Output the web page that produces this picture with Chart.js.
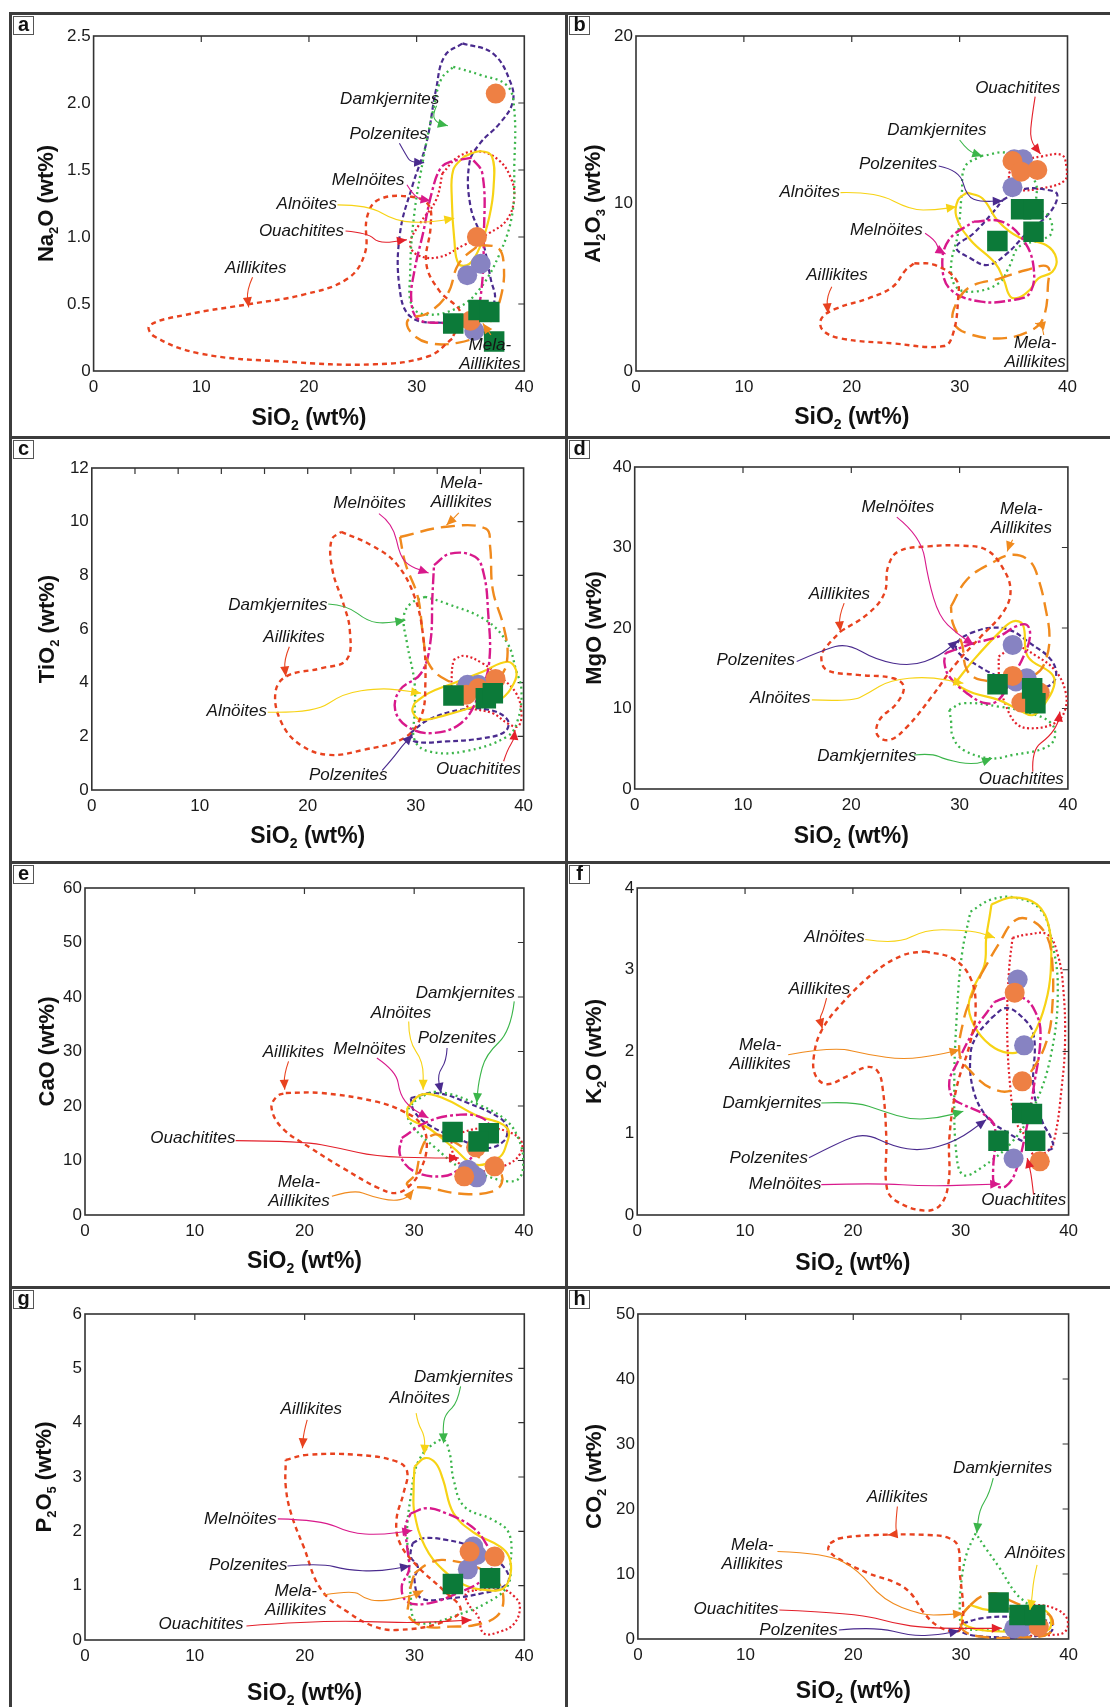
<!DOCTYPE html>
<html>
<head>
<meta charset="utf-8">
<script src="https://cdn.jsdelivr.net/npm/chart.js@4.4.1/dist/chart.umd.min.js"></script>
<style>
  body { margin: 0; background: #fff; }
  #fig { position: relative; width: 1110px; height: 1707px; overflow: hidden; }
  #fig canvas { position: absolute; }
  .ln { position: absolute; background: #3c3c3c; }
</style>
</head>
<body>
<div id="fig"></div>
<script>
// ---- a: Na2O ----
const naAill = [[33.3,0.24],[31.1,0.11],[26.1,0.05],[17.8,0.07],[9.9,0.13],[5.6,0.26],[5.2,0.34],[8.6,0.42],[14.5,0.5],[19.5,0.57],[23.6,0.69],[25.2,0.88],[25.4,1.15],[26.5,1.28],[29.5,1.3],[31.1,1.24],[31.3,1.08],[30.9,0.8],[32.1,0.6],[34.1,0.43]];
const naMela = [[35.75,0.94],[37.6,0.915],[38.1,0.78],[37.9,0.58],[37.1,0.405],[35.75,0.27],[33.8,0.21],[31.1,0.21],[29.45,0.29],[29.2,0.38],[31.1,0.435],[32.9,0.58],[33.9,0.8]];
const naMeln = [[35.1,1.59],[33.1,1.56],[32.2,1.51],[31.4,1.33],[30.6,1.03],[29.8,0.75],[29.5,0.53],[30.1,0.39],[32.1,0.36],[35.1,0.375],[35.9,0.53],[36.25,1.03],[36.1,1.475]];
const naAlno = [[34.4,1.6],[35.9,1.64],[37.0,1.6],[37.15,1.375],[36.75,1.15],[35.9,0.93],[34.9,0.8],[33.9,0.8],[33.5,0.98],[33.27,1.28],[33.4,1.5]];
const naDamk = [[33.4,2.27],[35.9,2.21],[38.4,2.13],[39.07,1.95],[39.07,1.525],[38.9,1.18],[37.74,0.88],[35.75,0.6],[33.76,0.47],[31.1,0.42],[29.6,0.48],[29.4,0.73],[29.75,1.15],[30.6,1.575],[31.6,1.97],[32.3,2.18]];
const naPolz = [[34.26,2.445],[37.08,2.37],[38.74,2.15],[38.9,2.0],[37.74,1.85],[35.9,1.7],[34.9,1.55],[35.0,1.23],[36.1,0.98],[36.9,0.68],[37.25,0.53],[36.1,0.38],[32.4,0.36],[29.45,0.405],[28.4,0.63],[28.46,1.03],[29.6,1.38],[30.9,1.7],[31.8,2.1],[32.6,2.35]];
const naOuac = [[32.4,1.475],[33.9,1.6],[35.75,1.64],[37.6,1.575],[38.7,1.45],[39.07,1.3],[38.4,1.13],[36.75,1.03],[34.4,0.94],[32.1,0.85],[30.1,0.865],[29.4,0.95],[30.3,1.1],[31.8,1.275]];
const naOrange = [[37.35,2.07],[35.6,1.0],[35.0,0.375]];
const naPurple = [[35.95,0.8],[34.7,0.715],[35.35,0.3]];
const naGreen = [[33.4,0.355],[35.75,0.455],[36.75,0.44],[37.2,0.22]];
const naNotes = [
  ['Damkjernites',[27.5,2.03],[[31.85,1.98],[31.45,1.91],[31.9,1.85],[32.9,1.83]]],
  ['Polzenites',[27.4,1.77],[[28.4,1.7],[29.1,1.6],[29.45,1.56],[30.7,1.555]]],
  ['Melnöites',[25.5,1.425],[[29.1,1.39],[29.8,1.29],[31.3,1.27]]],
  ['Alnöites',[19.8,1.245],[[22.65,1.24],[25.5,1.24],[28.1,1.115],[31.1,1.107],[33.5,1.14]]],
  ['Ouachitites',[19.3,1.045],[[23.4,1.045],[25.5,1.03],[26.5,0.95],[29.1,0.98]]],
  ['Aillikites',[15.06,0.77],[[14.76,0.7],[14.2,0.6],[14.4,0.475]]],
  ['Mela-Aillikites',[36.8,0.195],[[36.9,0.27],[36.15,0.355]]]
];

// ---- b: Al2O3 ----
const alAill = [[25.8,6.43],[27.7,6.33],[29.7,5.43],[29.85,4.24],[29.4,2.25],[28.55,1.49],[23.8,1.65],[18.96,1.95],[17.3,2.45],[17.2,3.14],[18.6,3.74],[21.56,4.34],[23.8,5.03],[25.0,6.03]];
const alMela = [[33.6,5.5],[36.2,6.03],[38.15,6.23],[38.2,5.23],[37.8,3.24],[36.7,2.45],[33.9,1.95],[30.7,2.25],[29.4,2.95],[29.7,4.04],[31.0,5.03]];
const alMeln = [[31.3,8.92],[33.9,8.92],[35.9,7.82],[36.85,6.23],[36.5,4.64],[34.9,4.24],[32.0,4.14],[29.2,4.84],[28.4,6.23],[29.0,7.82]];
const alAlno = [[30.67,10.65],[32.1,10.31],[33.6,8.92],[35.5,7.98],[38.0,7.52],[38.96,6.73],[38.6,5.93],[37.3,5.53],[36.5,4.84],[35.5,4.38],[34.7,4.44],[34.1,5.43],[33.3,6.43],[31.0,7.82],[29.7,9.21],[29.85,10.21]];
const alDamk = [[32.0,12.84],[34.6,12.96],[37.0,11.3],[37.2,9.81],[38.3,9.21],[38.5,8.22],[37.5,7.82],[35.5,7.42],[34.6,6.23],[33.6,5.23],[31.3,4.74],[29.7,5.0],[29.2,6.23],[29.85,8.22],[30.2,10.6],[30.5,12.2]];
const alPolz = [[34.0,10.21],[35.9,10.85],[38.15,10.81],[39.06,10.51],[38.3,9.41],[36.2,8.22],[34.4,7.02],[32.6,6.33],[31.0,6.73],[29.7,7.38],[31.3,8.22],[33.0,9.41]];
const alOuac = [[35.9,12.6],[37.5,12.8],[39.45,12.9],[39.9,12.2],[39.8,11.4],[37.5,10.9],[35.2,10.9],[34.6,11.8]];
const alOrange = [[34.9,12.54],[35.7,11.9],[37.2,12.0]];
const alPurple = [[35.06,12.64],[35.87,12.64],[34.9,10.97]];
const alGreen = [[35.7,9.65],[36.85,9.65],[36.85,8.32],[33.5,7.76]];
const alNotes = [
  ['Ouachitites',[35.38,16.88],[[37.0,16.38],[36.7,15.18],[36.5,13.79],[37.5,12.96]]],
  ['Damkjernites',[27.9,14.39],[[30.0,13.79],[30.8,13.1],[32.1,12.84]]],
  ['Polzenites',[24.3,12.34],[[28.06,12.24],[30.0,12.0],[30.67,10.41],[31.95,10.11],[34.0,10.15]]],
  ['Alnöites',[16.1,10.7],[[18.96,10.65],[22.2,10.7],[25.5,9.61],[27.74,9.61],[29.7,9.81]]],
  ['Melnöites',[23.2,8.38],[[26.8,8.22],[27.74,7.82],[28.06,7.22],[28.7,6.99]]],
  ['Aillikites',[18.63,5.73],[[18.15,5.03],[17.66,4.44],[17.8,3.44]]],
  ['Mela-Aillikites',[37.0,1.65],[[37.8,2.15],[37.66,2.75],[37.0,2.85]]]
];

// ---- c: TiO2 ----
const tiAill = [[23.1,9.62],[25.9,9.12],[28.2,8.44],[29.9,7.2],[30.7,5.71],[30.9,3.98],[30.5,2.74],[28.9,1.93],[25.2,1.5],[21.9,1.31],[19.3,1.69],[17.6,2.49],[17.0,3.61],[18.0,4.23],[21.3,4.54],[23.6,4.85],[23.9,5.96],[23.3,6.95],[22.3,8.19],[22.2,9.31]];
const tiMela = [[28.55,9.43],[32.85,9.81],[36.5,9.74],[36.9,9.06],[37.15,7.45],[38.15,6.09],[38.5,4.97],[37.8,4.23],[35.5,3.86],[32.85,4.1],[31.2,4.72],[30.7,5.71],[30.2,7.2],[29.05,8.44]];
const tiMeln = [[31.7,8.38],[33.2,8.81],[35.5,8.69],[36.3,8.07],[36.7,6.71],[36.8,4.72],[35.8,3.48],[34.2,2.49],[31.5,2.12],[29.2,2.37],[28.1,2.99],[28.55,3.73],[30.5,4.35],[31.35,5.47],[31.55,7.2]];
const tiAlno = [[29.9,3.24],[31.2,3.61],[33.5,3.98],[36.2,4.41],[38.5,4.78],[39.3,4.47],[39.1,3.98],[37.8,3.36],[35.5,3.11],[32.85,2.8],[30.5,2.62],[29.7,2.93]];
const tiDamk = [[30.87,7.2],[32.85,6.95],[36.5,6.33],[38.5,5.47],[39.3,4.47],[39.8,3.73],[39.47,2.62],[38.5,2.0],[34.5,1.44],[31.2,1.44],[29.9,1.87],[29.9,2.86],[29.9,3.98],[29.2,5.47],[28.9,6.46],[29.55,6.95]];
const tiPolz = [[29.5,2.12],[31.2,2.62],[34.2,2.99],[36.8,2.99],[38.5,2.62],[38.3,2.18],[36.2,1.93],[32.85,1.81],[29.9,1.81]];
const tiOuac = [[33.5,4.85],[34.5,5.0],[36.2,4.72],[37.8,4.23],[39.3,3.61],[39.8,2.86],[39.47,2.37],[38.5,2.49],[37.15,2.86],[34.8,3.11],[33.5,3.61],[33.35,4.35]];
const tiOrange = [[34.7,3.55],[35.8,3.79],[37.4,4.14]];
const tiPurple = [[34.8,3.92],[35.8,3.92]];
const tiGreen = [[33.5,3.52],[36.5,3.42],[37.15,3.61]];
const tiNotes = [
  ['Mela-Aillikites',[34.24,11.42],[[34.0,10.33],[33.5,10.12],[32.85,9.87]]],
  ['Melnöites',[25.74,10.67],[[26.6,10.3],[27.9,9.93],[28.55,8.69],[29.55,8.32],[31.2,8.09]]],
  ['Damkjernites',[17.24,6.89],[[21.9,6.93],[23.6,6.89],[25.6,6.27],[27.2,6.21],[29.05,6.33]]],
  ['Aillikites',[18.73,5.71],[[18.3,5.34],[17.8,4.85],[17.97,4.23]]],
  ['Alnöites',[13.43,2.95],[[16.3,2.9],[20.6,2.86],[23.3,3.61],[26.6,3.79],[28.55,3.73],[30.5,3.61]]],
  ['Polzenites',[23.75,0.55],[[26.9,0.73],[27.9,1.19],[28.7,1.62],[29.7,2.06]]],
  ['Ouachitites',[35.83,0.76],[[38.15,1.07],[38.5,1.5],[39.1,1.87],[39.2,2.24]]]
];

// ---- d: MgO ----
const mgAill = [[19.0,19.56],[21.6,21.84],[23.06,24.33],[23.4,27.65],[24.36,29.51],[27.1,30.14],[30.35,30.22],[32.45,29.72],[33.9,27.65],[34.7,24.75],[34.07,22.05],[31.97,18.94],[29.7,15.63],[27.43,11.48],[25.17,7.75],[23.55,6.09],[22.4,6.72],[22.6,8.58],[24.2,10.65],[24.84,12.73],[23.87,13.76],[20.63,14.18],[17.72,14.8],[17.23,16.46],[17.72,17.7]];
const mgMela = [[29.2,22.67],[30.67,25.99],[32.94,28.06],[34.9,29.1],[36.5,28.27],[37.3,25.99],[37.96,22.26],[38.3,18.94],[37.96,16.04],[37.15,14.38],[35.2,13.55],[31.97,13.55],[30.67,14.8],[30.2,18.11],[29.37,20.6]];
const mgMeln = [[28.7,16.87],[31.3,18.11],[33.6,18.94],[35.2,20.19],[36.2,20.39],[36.5,18.94],[35.9,16.46],[34.9,13.97],[33.6,11.07],[32.4,10.65],[30.67,11.9],[29.05,13.97],[28.6,15.63]];
const mgAlno = [[29.7,13.35],[31.3,16.04],[33.6,19.36],[34.9,20.81],[35.85,20.39],[36.3,16.46],[38.45,14.38],[38.77,13.14],[38.1,11.07],[36.8,9.2],[35.5,9.82],[33.6,11.07],[31.3,11.9],[30.0,12.73]];
const mgDamk = [[29.05,9.82],[30.35,10.65],[33.6,10.24],[36.5,9.41],[38.45,8.17],[38.77,6.3],[37.8,5.06],[34.9,4.23],[32.9,3.81],[30.35,4.85],[29.37,6.51],[29.2,8.58]];
const mgPolz = [[31.0,19.36],[32.6,19.98],[34.6,19.77],[36.5,18.11],[38.45,16.04],[38.9,13.97],[38.1,12.73],[36.2,12.73],[33.6,13.97],[31.3,15.63],[29.7,17.29],[30.0,18.53]];
const mgOuac = [[33.6,16.46],[35.2,17.7],[37.15,16.46],[38.77,14.8],[39.74,12.31],[39.74,9.82],[38.77,8.17],[36.5,7.54],[35.2,8.17],[34.2,10.65],[33.7,13.14]];
const mgOrange = [[34.9,14.05],[37.4,11.98],[35.7,10.74]];
const mgPurple = [[34.9,17.9],[35.2,13.35],[36.2,13.76]];
const mgGreen = [[33.5,13.0],[36.7,12.5],[37.0,10.65]];
const mgNotes = [
  ['Melnöites',[24.3,35.03],[[24.2,33.78],[26.46,31.38],[27.1,25.99],[28.1,21.43],[29.7,19.36],[31.3,17.91]]],
  ['Mela-Aillikites',[35.7,34.69],[[34.9,30.96],[34.56,30.14],[34.4,29.51]]],
  ['Aillikites',[18.9,24.25],[[19.34,23.09],[18.85,21.43],[19.0,19.56]]],
  ['Polzenites',[11.17,15.96],[[14.96,15.83],[17.4,17.29],[19.64,18.11],[22.25,16.04],[25.5,15.21],[28.08,16.46],[29.86,18.45]]],
  ['Alnöites',[13.44,11.27],[[16.36,11.07],[19.98,10.86],[21.6,11.9],[23.55,13.55],[27.1,13.97],[30.35,13.14]]],
  ['Damkjernites',[21.44,4.02],[[25.8,4.23],[27.43,4.44],[28.73,3.61],[31.3,2.98],[33.0,3.81]]],
  ['Ouachitites',[35.7,1.2],[[36.76,2.16],[36.66,4.85],[38.3,6.51],[39.1,8.17],[39.26,9.62]]]
];

// ---- e: CaO ----
const caAill = [[18.3,22.39],[21.5,22.39],[26.4,20.86],[29.0,19.02],[30.66,16.57],[31.15,12.9],[30.66,8.62],[29.7,5.57],[28.4,4.04],[26.75,4.95],[23.5,8.62],[20.57,12.29],[17.97,15.96],[17.0,19.63],[17.5,21.77]];
const caMela = [[30.17,7.4],[30.82,12.9],[31.8,14.74],[32.94,14.13],[34.56,12.29],[36.5,9.85],[37.82,8.01],[37.98,5.87],[37.17,4.34],[34.56,3.85],[31.3,4.95],[29.36,5.57]];
const caMeln = [[28.87,14.13],[31.3,17.19],[34.24,18.41],[36.2,17.8],[36.84,15.96],[35.87,12.29],[34.24,8.62],[32.6,7.1],[30.0,8.01],[28.7,11.07]];
const caAlno = [[29.36,19.63],[30.66,22.08],[32.6,21.47],[35.54,18.41],[38.47,15.96],[38.3,12.29],[37.66,10.46],[35.54,9.24],[33.6,12.29],[31.3,15.96],[29.5,17.8]];
const caDamk = [[30.0,20.86],[31.96,22.57],[35.87,20.24],[38.47,17.19],[39.6,13.52],[39.94,9.85],[39.6,6.79],[38.47,6.18],[36.2,7.4],[34.24,8.62],[31.96,12.29],[30.0,15.96],[29.36,18.72]];
const caPolz = [[29.68,21.47],[31.96,22.39],[34.9,20.55],[37.8,17.8],[38.47,15.96],[38.15,13.52],[36.5,12.29],[33.9,14.13],[31.3,16.57],[30.0,19.02]];
const caOuac = [[33.6,14.74],[36.2,15.96],[38.47,15.35],[39.77,13.52],[39.6,11.07],[38.47,9.24],[36.2,8.01],[34.24,9.24],[33.4,12.29]];
const caOrange = [[35.64,12.42],[37.33,8.93],[34.56,7.1]];
const caPurple = [[34.9,8.32],[35.2,7.7],[35.7,6.91]];
const caGreen = [[33.5,15.23],[36.8,15.0],[35.87,13.5]];
const caNotes = [
  ['Damkjernites',[34.66,40.73],[[39.12,39.2],[38.8,33.7],[36.52,29.42],[35.87,24.53],[35.7,20.55]]],
  ['Alnöites',[28.8,37.06],[[29.5,35.5],[29.5,31.87],[30.82,28.2],[30.82,23.0]]],
  ['Polzenites',[33.9,32.35],[[33.0,30.64],[32.94,28.2],[32.1,25.75],[32.45,22.39]]],
  ['Melnöites',[25.94,30.34],[[26.6,28.8],[28.38,26.36],[28.7,22.08],[29.68,19.63],[31.3,17.8]]],
  ['Aillikites',[19.0,29.85],[[18.55,28.2],[18.13,25.75],[18.2,23.0]]],
  ['Ouachitites',[9.83,14.0],[[13.73,13.64],[19.92,13.52],[23.17,12.29],[26.43,10.76],[31.3,10.46],[34.08,10.46]]],
  ['Mela-Aillikites',[19.5,5.99],[[22.5,3.43],[24.5,4.65],[26.1,3.43],[28.06,2.51],[29.36,3.12],[29.94,4.65]]]
];

// ---- f: K2O ----
const kAill = [[26.67,3.225],[29.27,3.136],[30.9,2.9],[31.38,2.53],[30.9,2.12],[29.6,1.55],[28.94,0.94],[28.88,0.41],[28.13,0.126],[26.67,0.053],[24.07,0.167],[23.15,0.33],[23.1,0.94],[22.76,1.55],[22.28,1.76],[21.3,1.81],[19.5,1.7],[17.56,1.6],[16.5,1.717],[16.4,1.96],[17.07,2.25],[18.86,2.57],[22.1,2.98],[24.7,3.18]];
const kMela = [[31.87,2.94],[33.5,3.31],[35.1,3.61],[36.75,3.59],[38.05,3.39],[38.5,3.06],[38.5,2.57],[38.05,2.165],[36.75,1.8],[34.8,1.53],[32.85,1.55],[30.9,1.76],[29.9,1.96],[30.24,2.37],[31.05,2.69]];
const kMeln = [[33.17,2.61],[34.15,2.655],[35.77,2.655],[36.9,2.49],[37.4,2.206],[36.75,1.55],[36.1,1.064],[35.1,0.534],[34.15,0.35],[33.17,0.371],[33.0,0.534],[33.17,1.064],[32.2,1.227],[30.24,1.35],[29.27,1.43],[28.94,1.635],[29.6,1.84],[31.2,2.247]];
const kAlno = [[32.85,3.8],[34.8,3.886],[37.07,3.8],[38.2,3.51],[38.37,3.06],[38.05,2.695],[37.07,2.29],[35.77,2.04],[34.8,1.98],[33.17,2.04],[31.54,2.25],[30.73,2.53],[31.2,2.78],[32.2,3.06],[32.36,3.39],[32.7,3.67]];
const kDamk = [[30.9,3.71],[32.85,3.86],[35.1,3.88],[37.4,3.735],[38.37,3.39],[39.0,2.78],[38.37,1.96],[36.75,1.31],[34.8,0.9],[31.87,0.575],[30.24,0.49],[29.6,0.74],[29.4,1.55],[29.6,2.37],[30.1,3.18]];
const kPolz = [[32.85,2.41],[34.15,2.53],[35.45,2.45],[36.75,2.206],[36.75,1.55],[37.56,1.146],[38.37,0.942],[38.54,0.82],[37.9,0.8],[36.42,0.86],[34.15,1.023],[32.5,1.187],[31.2,1.513],[30.9,1.96],[31.54,2.206]];
const kOuac = [[34.8,3.39],[36.1,3.43],[38.05,3.43],[39.0,3.18],[39.5,2.78],[39.67,2.12],[39.35,1.55],[38.7,0.94],[38.05,0.78],[36.75,0.74],[36.1,0.94],[35.1,1.146],[34.6,1.55],[34.3,2.29],[34.47,2.98]];
const kOrange = [[35.0,2.72],[35.7,1.635],[37.33,0.656]];
const kPurple = [[35.28,2.88],[35.87,2.075],[34.9,0.69]];
const kGreen = [[33.5,0.909],[35.7,1.248],[36.6,1.235],[36.9,0.909]];
const kNotes = [
  ['Alnöites',[18.3,3.4],[[21.14,3.37],[24.07,3.31],[26.67,3.49],[29.9,3.49],[31.87,3.45],[33.17,3.39]]],
  ['Aillikites',[16.9,2.756],[[17.56,2.654],[17.24,2.49],[16.9,2.41],[17.17,2.28]]],
  ['Mela-Aillikites',[11.4,2.075],[[14.0,1.96],[18.2,2.06],[21.46,1.96],[24.7,1.9],[27.97,1.96],[29.9,2.02]]],
  ['Damkjernites',[12.5,1.37],[[17.07,1.37],[20.16,1.39],[22.76,1.27],[25.37,1.166],[27.97,1.187],[30.24,1.268]]],
  ['Polzenites',[12.2,0.7],[[15.93,0.7],[18.86,0.9],[21.14,1.003],[23.74,0.84],[26.34,0.78],[29.6,0.9],[32.36,1.166]]],
  ['Melnöites',[13.72,0.371],[[17.07,0.371],[22.1,0.39],[27.0,0.35],[33.66,0.38]]],
  ['Ouachitites',[35.84,0.175],[[36.75,0.25],[36.58,0.45],[36.4,0.575],[36.16,0.697]]]
];

// ---- g: P2O5 ----
const pAill = [[18.28,3.316],[20.23,3.408],[24.78,3.408],[28.36,3.286],[29.33,3.1],[29.0,2.7],[28.36,2.21],[28.68,1.78],[30.3,1.35],[32.6,0.92],[34.2,0.553],[32.26,0.307],[28.36,0.184],[26.4,0.246],[24.1,0.49],[21.53,0.92],[19.9,1.72],[18.76,2.33],[18.28,2.825]];
const pMela = [[30.0,1.228],[31.3,1.41],[32.6,1.474],[35.5,1.35],[37.46,1.105],[38.1,0.737],[37.46,0.43],[35.5,0.276],[33.23,0.246],[31.0,0.246],[29.5,0.43],[29.5,0.737],[29.66,0.983]];
const pMeln = [[29.66,2.33],[31.12,2.426],[32.9,2.33],[35.2,2.088],[36.5,1.78],[37.14,1.41],[36.2,1.105],[33.9,0.86],[31.3,0.675],[29.33,0.706],[28.84,0.983],[29.5,1.29],[29.33,1.72],[29.17,2.088]];
const pAlno = [[30.0,3.19],[30.96,3.347],[31.93,3.255],[32.6,2.95],[33.56,2.33],[35.5,1.965],[37.8,1.72],[38.6,1.535],[38.76,1.23],[38.1,0.95],[36.5,0.92],[34.54,1.013],[32.6,1.29],[30.96,1.72],[30.0,2.33],[29.92,2.76]];
const pDamk = [[30.96,3.5],[32.59,3.685],[33.2,3.44],[33.56,2.95],[34.54,2.456],[37.14,2.21],[38.6,1.965],[38.76,1.41],[38.44,0.983],[36.5,0.675],[33.9,0.46],[31.3,0.307],[30.0,0.368],[29.66,0.8],[29.5,1.41],[29.33,2.03],[29.66,2.64],[30.15,3.19]];
const pPolz = [[29.82,1.78],[30.8,1.873],[32.9,1.842],[35.2,1.72],[37.46,1.474],[38.6,1.167],[38.1,0.983],[36.16,0.86],[33.23,0.768],[30.63,0.768],[30.0,1.105],[30.3,1.35],[29.66,1.535]];
const pOuac = [[35.5,0.92],[37.8,0.95],[39.1,0.8],[39.6,0.614],[39.1,0.307],[37.8,0.154],[36.3,0.123],[35.8,0.43],[34.86,0.675],[34.7,0.86]];
const pOrange = [[35.02,1.627],[37.3,1.535]];
const pPurple = [[35.67,1.566],[34.86,1.3],[35.35,1.72]];
const pGreen = [[33.5,1.03],[36.88,1.136]];
const pNotes = [
  ['Damkjernites',[34.47,4.83],[[34.2,4.667],[33.9,4.36],[32.9,4.176],[32.6,3.99],[32.65,3.62]]],
  ['Alnöites',[30.47,4.44],[[30.15,4.176],[30.3,3.99],[30.96,3.746],[30.9,3.41]]],
  ['Aillikites',[20.6,4.24],[[20.23,4.05],[19.9,3.81],[19.8,3.53]]],
  ['Melnöites',[14.15,2.23],[[17.56,2.23],[21.53,2.21],[24.13,1.965],[26.86,1.935],[29.8,2.014]]],
  ['Polzenites',[14.86,1.38],[[18.44,1.363],[21.53,1.41],[23.8,1.29],[26.73,1.26],[29.6,1.363]]],
  ['Mela-Aillikites',[19.19,0.9],[[21.7,0.829],[24.46,0.92],[25.4,0.768],[26.73,0.706],[29.66,0.8],[30.8,0.909]]],
  ['Ouachitites',[10.57,0.29],[[14.7,0.258],[21.53,0.368],[29.66,0.307],[35.2,0.368]]]
];

// ---- h: CO2 ----
const coAill = [[17.85,14.73],[18.8,15.5],[22.1,16.0],[26.97,16.0],[28.92,15.5],[29.74,14.2],[29.9,10.1],[30.2,5.0],[30.06,1.9],[29.58,1.13],[27.95,1.9],[26.6,3.95],[25.34,7.03],[24.04,8.57],[21.43,10.1],[18.83,12.17],[17.69,13.7]];
const coMela = [[30.88,5.24],[31.86,6.52],[33.16,7.03],[34.8,5.75],[36.74,4.47],[38.37,3.44],[38.2,0.87],[35.1,0.26],[31.86,0.36],[30.2,1.39],[30.06,3.44]];
const coMeln = [];
const coAlno = [[30.88,5.24],[32.5,4.47],[34.8,4.72],[37.7,4.47],[38.37,2.93],[38.05,1.39],[35.1,1.13],[31.86,1.39],[30.2,2.41],[30.2,3.95]];
const coDamk = [[31.37,16.27],[30.55,13.19],[30.06,9.09],[29.9,3.95],[30.2,1.9],[31.86,1.39],[35.1,1.64],[36.74,3.44],[36.4,4.98],[35.1,7.03],[33.5,11.14],[32.2,14.2]];
const coPolz = [[30.2,2.41],[31.86,3.18],[34.46,3.44],[37.07,3.18],[38.37,2.41],[38.37,1.13],[36.4,0.36],[33.5,0.26],[30.9,0.62],[29.9,1.39]];
const coOuac = [[35.1,4.72],[37.07,5.24],[39.0,4.47],[39.9,2.93],[39.67,1.13],[38.37,0.62],[36.1,0.62],[34.8,1.9],[34.6,3.7]];
const coOrange = [[37.23,1.9]];
const coPurple = [[34.95,1.64],[35.77,1.9]];
const coGreen = [[33.5,5.6],[35.44,3.7],[36.9,3.7]];
const coNotes = [
  ['Damkjernites',[33.88,26.28],[[33.0,24.74],[32.67,22.43],[31.7,19.87],[31.47,16.27]]],
  ['Aillikites',[24.1,21.82],[[24.1,20.38],[23.9,17.3],[24.1,16.17],[23.2,16.0]]],
  ['Alnöites',[36.9,13.19],[[37.07,11.4],[36.74,9.09],[36.58,6.0],[36.4,4.47]]],
  ['Mela-Aillikites',[10.62,14.48],[[12.96,13.45],[17.52,13.19],[20.46,10.63],[22.74,6.0],[26.3,3.7],[28.6,3.7],[30.2,3.95]]],
  ['Ouachitites',[9.12,4.57],[[13.13,4.47],[20.46,3.95],[23.7,2.41],[26.97,1.64],[33.8,1.64]]],
  ['Polzenites',[14.92,1.39],[[18.66,1.39],[22.08,1.9],[25.34,0.46],[27.95,0.62],[29.84,1.28]]]
];

// ---- styles ----
const FONT = '"Liberation Sans", Arial, sans-serif';
const fieldNames = ['Aillikites', 'Mela-Aillikites', 'Melnöites', 'Alnöites', 'Damkjernites', 'Polzenites', 'Ouachitites'];
const fieldColor = {
  'Aillikites': '#e8421f',
  'Mela-Aillikites': '#f08a1d',
  'Melnöites': '#d8198b',
  'Alnöites': '#f7d315',
  'Damkjernites': '#3bb54a',
  'Polzenites': '#4a2b8e',
  'Ouachitites': '#e3202b'
};
const fieldDash = {
  'Aillikites': [5, 4],
  'Mela-Aillikites': [14, 7],
  'Melnöites': [11, 3, 3, 3],
  'Alnöites': [],
  'Damkjernites': [2, 3.5],
  'Polzenites': [5, 3],
  'Ouachitites': [2, 2.5]
};
const fieldWidth = {
  'Aillikites': 2.4, 'Mela-Aillikites': 2.4, 'Melnöites': 2.4, 'Alnöites': 2.2,
  'Damkjernites': 2.3, 'Polzenites': 2.2, 'Ouachitites': 2.2
};

const panels = [
  { letter: 'a', cell: [12, 15, 553, 421], plot: [93.6, 36, 524.3, 371], yMax: 2.5, yStep: 0.5, dec: 1,
    yTitle: 'Na_2O (wt%)', yTitleX: 45, xTitleDy: 46, topTicks: [10, 20, 30],
    fields: [naAill, naMela, naMeln, naAlno, naDamk, naPolz, naOuac], orange: naOrange, purple: naPurple, green: naGreen, notes: naNotes },
  { letter: 'b', cell: [568, 15, 542, 421], plot: [636, 36, 1067.5, 371], yMax: 20, yStep: 10, dec: 0,
    yTitle: 'Al_2O_3 (wt%)', yTitleX: 592, xTitleDy: 45, topTicks: [10, 20, 30],
    fields: [alAill, alMela, alMeln, alAlno, alDamk, alPolz, alOuac], orange: alOrange, purple: alPurple, green: alGreen, notes: alNotes },
  { letter: 'c', cell: [12, 439, 553, 422], plot: [91.8, 468, 523.6, 790], yMax: 12, yStep: 2, dec: 0,
    yTitle: 'TiO_2 (wt%)', yTitleX: 46, xTitleDy: 45, topTicks: [4, 8, 12, 16, 20, 24, 28, 32, 36],
    fields: [tiAill, tiMela, tiMeln, tiAlno, tiDamk, tiPolz, tiOuac], orange: tiOrange, purple: tiPurple, green: tiGreen, notes: tiNotes },
  { letter: 'd', cell: [568, 439, 542, 422], plot: [634.7, 467, 1067.9, 789], yMax: 40, yStep: 10, dec: 0,
    yTitle: 'MgO (wt%)', yTitleX: 593, xTitleDy: 46, topTicks: [10, 20, 30],
    fields: [mgAill, mgMela, mgMeln, mgAlno, mgDamk, mgPolz, mgOuac], orange: mgOrange, purple: mgPurple, green: mgGreen, notes: mgNotes },
  { letter: 'e', cell: [12, 864, 553, 422], plot: [85, 888, 523.9, 1215], yMax: 60, yStep: 10, dec: 0,
    yTitle: 'CaO (wt%)', yTitleX: 46, xTitleDy: 45, topTicks: [10, 20, 30],
    fields: [caAill, caMela, caMeln, caAlno, caDamk, caPolz, caOuac], orange: caOrange, purple: caPurple, green: caGreen, notes: caNotes },
  { letter: 'f', cell: [568, 864, 542, 422], plot: [637.2, 888, 1068.6, 1215], yMax: 4, yStep: 1, dec: 0,
    yTitle: 'K_2O (wt%)', yTitleX: 593, xTitleDy: 47, topTicks: [10, 20, 30],
    fields: [kAill, kMela, kMeln, kAlno, kDamk, kPolz, kOuac], orange: kOrange, purple: kPurple, green: kGreen, notes: kNotes },
  { letter: 'g', cell: [12, 1289, 553, 418], plot: [85, 1314, 524.3, 1640], yMax: 6, yStep: 1, dec: 0,
    yTitle: 'P_2O_5 (wt%)', yTitleX: 43, xTitleDy: 52, topTicks: [10, 20, 30],
    fields: [pAill, pMela, pMeln, pAlno, pDamk, pPolz, pOuac], orange: pOrange, purple: pPurple, green: pGreen, notes: pNotes },
  { letter: 'h', cell: [568, 1289, 542, 418], plot: [637.9, 1314, 1068.6, 1639], yMax: 50, yStep: 10, dec: 0,
    yTitle: 'CO_2 (wt%)', yTitleX: 593, xTitleDy: 51, topTicks: [10, 20, 30],
    fields: [coAill, coMela, coMeln, coAlno, coDamk, coPolz, coOuac], orange: coOrange, purple: coPurple, green: coGreen, notes: coNotes }
];

const fig = document.getElementById('fig');

// panel frame lines
[[9, 12, 1101, 3], [9, 12, 3, 1695], [565, 12, 3, 1695], [9, 436, 1101, 3], [9, 861, 1101, 3], [9, 1286, 1101, 3]]
  .forEach(([l, t, w, h]) => {
    const d = document.createElement('div');
    d.className = 'ln';
    d.style.cssText = `left:${l}px;top:${t}px;width:${w}px;height:${h}px`;
    fig.appendChild(d);
  });

// text with "_x" subscripts, centred on (cx, cy)
function richText(ctx, s, cx, cy, size) {
  const parts = [];
  let buf = '';
  for (let i = 0; i < s.length; i++) {
    if (s[i] === '_') {
      if (buf) parts.push({ t: buf, sub: false });
      buf = '';
      parts.push({ t: s[i + 1], sub: true });
      i++;
    } else buf += s[i];
  }
  if (buf) parts.push({ t: buf, sub: false });
  const big = `bold ${size}px ${FONT}`;
  const small = `bold ${Math.round(size * 0.6)}px ${FONT}`;
  let w = 0;
  parts.forEach(q => { ctx.font = q.sub ? small : big; q.w = ctx.measureText(q.t).width; w += q.w; });
  let xx = cx - w / 2;
  const base = cy + size * 0.36;
  ctx.textAlign = 'left';
  ctx.textBaseline = 'alphabetic';
  parts.forEach(q => {
    ctx.font = q.sub ? small : big;
    ctx.fillText(q.t, xx, q.sub ? base + size * 0.22 : base);
    xx += q.w;
  });
}

function deco(p) {
  return {
    id: 'deco',
    beforeDatasetsDraw(chart) {
      const { ctx, chartArea: a, scales: { x, y } } = chart;
      ctx.save();
      ctx.strokeStyle = '#333';
      ctx.lineWidth = 1.6;
      ctx.strokeRect(a.left, a.top, a.right - a.left, a.bottom - a.top);
      ctx.lineWidth = 1.2;
      ctx.beginPath();
      p.topTicks.forEach(v => {
        const px = x.getPixelForValue(v);
        ctx.moveTo(px, a.top); ctx.lineTo(px, a.top + 6);
      });
      y.ticks.forEach(t => {
        if (t.value <= 0 || t.value >= p.yMax) return;
        const py = y.getPixelForValue(t.value);
        ctx.moveTo(a.right, py); ctx.lineTo(a.right - 6, py);
      });
      ctx.stroke();
      ctx.restore();
    },
    afterDatasetsDraw(chart) {
      const { ctx, scales: { x, y } } = chart;
      ctx.save();
      p.notes.forEach(([name, at, path]) => {
        const col = fieldColor[name];
        const pts = path.map(([u, v]) => [x.getPixelForValue(u), y.getPixelForValue(v)]);
        ctx.strokeStyle = col;
        ctx.fillStyle = col;
        ctx.lineWidth = 1.1;
        ctx.setLineDash([]);
        ctx.beginPath();
        ctx.moveTo(pts[0][0], pts[0][1]);
        for (let i = 1; i < pts.length - 1; i++) {
          const mx = (pts[i][0] + pts[i + 1][0]) / 2, my = (pts[i][1] + pts[i + 1][1]) / 2;
          ctx.quadraticCurveTo(pts[i][0], pts[i][1], mx, my);
        }
        const tip = pts[pts.length - 1];
        const from = pts[pts.length - 2];
        ctx.lineTo(tip[0], tip[1]);
        ctx.stroke();
        const ang = Math.atan2(tip[1] - from[1], tip[0] - from[0]);
        ctx.beginPath();
        ctx.moveTo(tip[0], tip[1]);
        ctx.lineTo(tip[0] - 10 * Math.cos(ang) + 4.5 * Math.sin(ang), tip[1] - 10 * Math.sin(ang) - 4.5 * Math.cos(ang));
        ctx.lineTo(tip[0] - 10 * Math.cos(ang) - 4.5 * Math.sin(ang), tip[1] - 10 * Math.sin(ang) + 4.5 * Math.cos(ang));
        ctx.closePath();
        ctx.fill();
        const lines = name === 'Mela-Aillikites' ? ['Mela-', 'Aillikites'] : [name];
        ctx.fillStyle = '#151515';
        ctx.font = `italic 17px ${FONT}`;
        ctx.textAlign = 'center';
        ctx.textBaseline = 'middle';
        const tx = x.getPixelForValue(at[0]), ty = y.getPixelForValue(at[1]);
        lines.forEach((ln, i) => ctx.fillText(ln, tx, ty + i * 19));
      });
      ctx.restore();
    },
    afterDraw(chart) {
      const { ctx, chartArea: a } = chart;
      ctx.save();
      ctx.fillStyle = '#111';
      richText(ctx, 'SiO_2 (wt%)', (a.left + a.right) / 2, a.bottom + p.xTitleDy, 23);
      ctx.translate(p.yTitleX - p.cell[0], (a.top + a.bottom) / 2);
      ctx.rotate(-Math.PI / 2);
      richText(ctx, p.yTitle, 0, 0, 22);
      ctx.restore();
      // panel letter box
      ctx.save();
      ctx.fillStyle = '#fff';
      ctx.strokeStyle = '#555';
      ctx.lineWidth = 1;
      ctx.fillRect(1.5, 1.5, 20, 18);
      ctx.strokeRect(1.5, 1.5, 20, 18);
      ctx.fillStyle = '#111';
      ctx.font = `bold 20px ${FONT}`;
      ctx.textAlign = 'center';
      ctx.textBaseline = 'middle';
      ctx.fillText(p.letter, 11.5, 10);
      ctx.restore();
    }
  };
}

const toXY = arr => arr.map(([x, y]) => ({ x, y }));

panels.forEach(p => {
  const [cx, cy, cw, ch] = p.cell;
  const [pl, pt, pr, pb] = p.plot;
  const canvas = document.createElement('canvas');
  canvas.width = cw;
  canvas.height = ch;
  canvas.style.left = cx + 'px';
  canvas.style.top = cy + 'px';
  canvas.style.width = cw + 'px';
  canvas.style.height = ch + 'px';
  fig.appendChild(canvas);

  const datasets = [
    { data: toXY(p.green), pointStyle: 'rect', pointRadius: 14.5, backgroundColor: '#0c7a39', borderWidth: 0, order: 0 },
    { data: toXY(p.orange), pointStyle: 'circle', pointRadius: 10, backgroundColor: '#ee8044', borderWidth: 0, order: 0 },
    { data: toXY(p.purple), pointStyle: 'circle', pointRadius: 10, backgroundColor: '#8783c2', borderWidth: 0, order: 0 }
  ];
  p.fields.forEach((pts, i) => {
    if (!pts.length) return;
    const name = fieldNames[i];
    datasets.push({
      data: toXY(pts.concat([pts[0]])),
      showLine: true,
      tension: 0.4,
      borderColor: fieldColor[name],
      borderWidth: fieldWidth[name],
      borderDash: fieldDash[name],
      pointRadius: 0,
      fill: false,
      order: 1
    });
  });

  new Chart(canvas, {
    type: 'scatter',
    data: { datasets },
    options: {
      responsive: false,
      animation: false,
      devicePixelRatio: 1,
      events: [],
      layout: { padding: { left: 2, top: pt - cy, right: cx + cw - pr, bottom: 0 } },
      plugins: { legend: { display: false }, tooltip: { enabled: false } },
      scales: {
        x: {
          type: 'linear', min: 0, max: 40,
          grid: { display: false, drawTicks: false },
          border: { display: false },
          ticks: { stepSize: 10, padding: 6, color: '#1a1a1a', font: { family: FONT, size: 17 }, maxRotation: 0, autoSkip: false },
          afterFit: s => { s.height = cy + ch - pb; }
        },
        y: {
          type: 'linear', min: 0, max: p.yMax,
          grid: { display: false, drawTicks: false },
          border: { display: false },
          ticks: {
            stepSize: p.yStep, padding: 3, color: '#1a1a1a', font: { family: FONT, size: 17 }, autoSkip: false,
            callback: v => (p.dec && v !== 0) ? v.toFixed(p.dec) : String(v)
          },
          afterFit: s => { s.width = pl - cx - 2; }
        }
      }
    },
    plugins: [deco(p)]
  });
});
</script>
</body>
</html>
